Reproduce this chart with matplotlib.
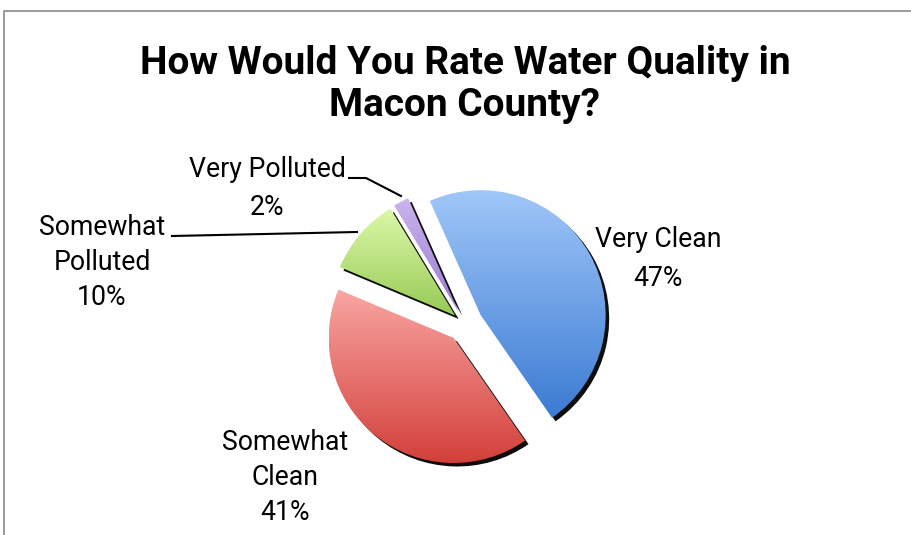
import numpy as np
import matplotlib
matplotlib.use("Agg")
import matplotlib.pyplot as plt
from matplotlib.colors import LinearSegmentedColormap
from matplotlib.patches import Wedge
import matplotlib.transforms as mtransforms

categories = ["Very Clean", "Somewhat Clean", "Somewhat Polluted", "Very Polluted"]
values = [47, 41, 10, 2]
label_lines = [["Very Clean", "47%"], ["Somewhat", "Clean", "41%"],
               ["Somewhat", "Polluted", "10%"], ["Very Polluted", "2%"]]
grad_top = ["#A0C7F9", "#F8A6A2", "#DCF8A8", "#CBB4EE"]
grad_bot = ["#3B7BD2", "#D2403B", "#96CA55", "#9A7CD2"]

W, H = 912, 535
fig = plt.figure(figsize=(W / 100, H / 100), dpi=100)
ax = fig.add_axes([0, 0, 1, 1])
ax.set_xlim(0, W)
ax.set_ylim(0, H)
ax.axis("off")

# frame
ax.plot([4, 4, W + 5], [-5, H - 11, H - 11], color="#8a8a8a", lw=1.2, zorder=1)

cx, cy, R = 465, H - 324, 125
explode_px = [18, 18, 13, 13]
wedges, _ = ax.pie(values, explode=explode_px, startangle=114, counterclock=False,
                   center=(cx, cy), radius=R, frame=False,
                   wedgeprops=dict(linewidth=0))

shadow_tr = mtransforms.offset_copy(ax.transData, fig=fig, x=3.5, y=-3.5, units="dots")
for i, w in enumerate(wedges):
    sh = Wedge(w.center, w.r, w.theta1, w.theta2, facecolor="black", edgecolor="none",
               transform=shadow_tr, zorder=2, alpha=0.95)
    ax.add_patch(sh)
    w.set_facecolor("none")
    w.set_zorder(4)
    ext = w.get_path().get_extents()
    cmap = LinearSegmentedColormap.from_list("g%d" % i, [grad_bot[i], grad_top[i]])
    grad = np.linspace(1, 0, 256).reshape(-1, 1)
    im = ax.imshow(grad, cmap=cmap, extent=[ext.x0, ext.x1, ext.y0, ext.y1],
                   aspect="auto", origin="upper", zorder=3, interpolation="bicubic")
    im.set_clip_path(w)
ax.set_xlim(0, W)
ax.set_ylim(0, H)
ax.set_aspect("equal")

fam = ["Roboto", "Liberation Sans", "DejaVu Sans"]
title_lines = ["How Would You Rate Water Quality in", "Macon County?"]
for line, base in zip(title_lines, [74, 116]):
    ax.text(465, H - base, line, ha="center", va="baseline", fontsize=28,
            fontweight="bold", family=fam)

lfs = 19.2
label_pos = [(658, [247, 286]), (285, [450, 485, 520]),
             (102, [235, 270, 305]), (267, [177, 215])]
for lines, (x, bases) in zip(label_lines, label_pos):
    for line, b in zip(lines, bases):
        ax.text(x, H - b, line, ha="center", va="baseline", fontsize=lfs, family=fam)

# leader lines
ax.plot([349, 366, 401], [H - 178, H - 178, H - 196], color="black", lw=1.5, zorder=5)
ax.plot([172, 357], [H - 236, H - 232], color="black", lw=1.5, zorder=5)

fig.savefig("out.png", dpi=100)
